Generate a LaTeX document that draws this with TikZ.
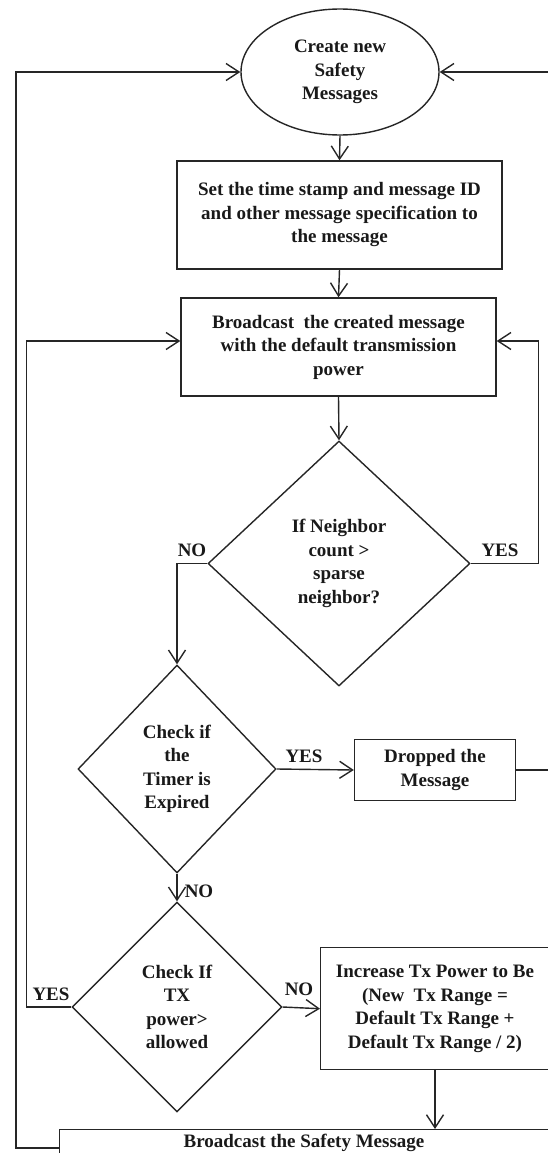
\documentclass[tikz,border=0pt]{standalone}
\usepackage{fontspec}
\setmainfont{Liberation Serif}
\usetikzlibrary{shapes.geometric,arrows.meta,calc}
\tikzset{
  base/.style={font=\fontsize{19}{23.5}\selectfont\bfseries, align=center, text=black!90},
  shp/.style={base, draw=black!85, line width=1.4pt, inner sep=0pt},
  boxnode/.style={shp, rectangle},
  dia/.style={shp, diamond},
  lbl/.style={base},
  ln/.style={draw=black!85, line width=1.4pt},
  arr/.style={ln, -{Straight Barb[length=13pt,width=17pt,line width=1.4pt]}},
}
\begin{document}
\begin{tikzpicture}[x=1pt,y=-1pt]
\useasboundingbox (0,0) rectangle (548,1153);
% nodes
\node[shp, ellipse, minimum width=198, minimum height=126] (e) at (340,72) {Create new\\Safety\\Messages};
\node[boxnode, minimum width=325, minimum height=108] (set) at (339.5,215) {Set the time stamp and message ID\\and other message specification to\\the message};
\node[boxnode, minimum width=315, minimum height=98] (bc) at (338.5,347) {Broadcast \ the created message\\with the default transmission\\power};
\node[dia, minimum width=262, minimum height=245] (d1) at (339,563.5) {If Neighbor\\count >\\sparse\\neighbor?};
\node[dia, minimum width=198, minimum height=208] (d2) at (177,769) {Check if\\the\\Timer is\\Expired};
\node[boxnode, minimum width=161, minimum height=61] (drop) at (435,770) {Dropped the\\Message};
\node[dia, minimum width=210, minimum height=210] (d3) at (177,1007) {Check If\\TX\\power>\\allowed};
\node[boxnode, anchor=north west, minimum width=260, minimum height=122] (incbox) at (320,947) {};
\node[lbl] (inc) at (435,1009) {Increase Tx Power to Be\\(New \ Tx Range =\\Default Tx Range +\\Default Tx Range / 2)};
\node[boxnode, anchor=north west, minimum width=560, minimum height=60] (botbox) at (59,1129) {};
\node[lbl] (bot) at (304,1143) {Broadcast the Safety Message};
% labels
\node[lbl] (l1) at (192,550) {NO};
\node[lbl] (l2) at (500,550) {YES};
\node[lbl] (l3) at (304,756) {YES};
\node[lbl] (l4) at (199,891) {NO};
\node[lbl] (l5) at (51,994) {YES};
\node[lbl] (l6) at (299,989) {NO};
% connectors
\draw[arr] (e.south) -- (set.north);
\draw[arr] (set.south) -- (bc.north);
\draw[arr] (bc.south) -- (d1.north);
\draw[arr] (d1.east) -- ++(68,0) |- ([yshift=6pt]bc.east);
\draw[arr] (d1.west) -| (d2.north);
\draw[arr] (d2.east) -- (drop.west);
\draw[arr] (drop.east) -- ++(60,0) |- (e.east);
\draw[arr] (d2.south) -- (d3.north);
\draw[arr] (d3.east) -- (incbox.west);
\draw[arr] (d3.west) -- ++(-45,0) |- ([yshift=6pt]bc.west);
\draw[arr] (inc.south |- incbox.south) -- (inc.south |- botbox.north);
\draw[arr] ([yshift=-19pt]botbox.north west) -- ++(-43,0) |- (e.west);
\end{tikzpicture}
\end{document}
